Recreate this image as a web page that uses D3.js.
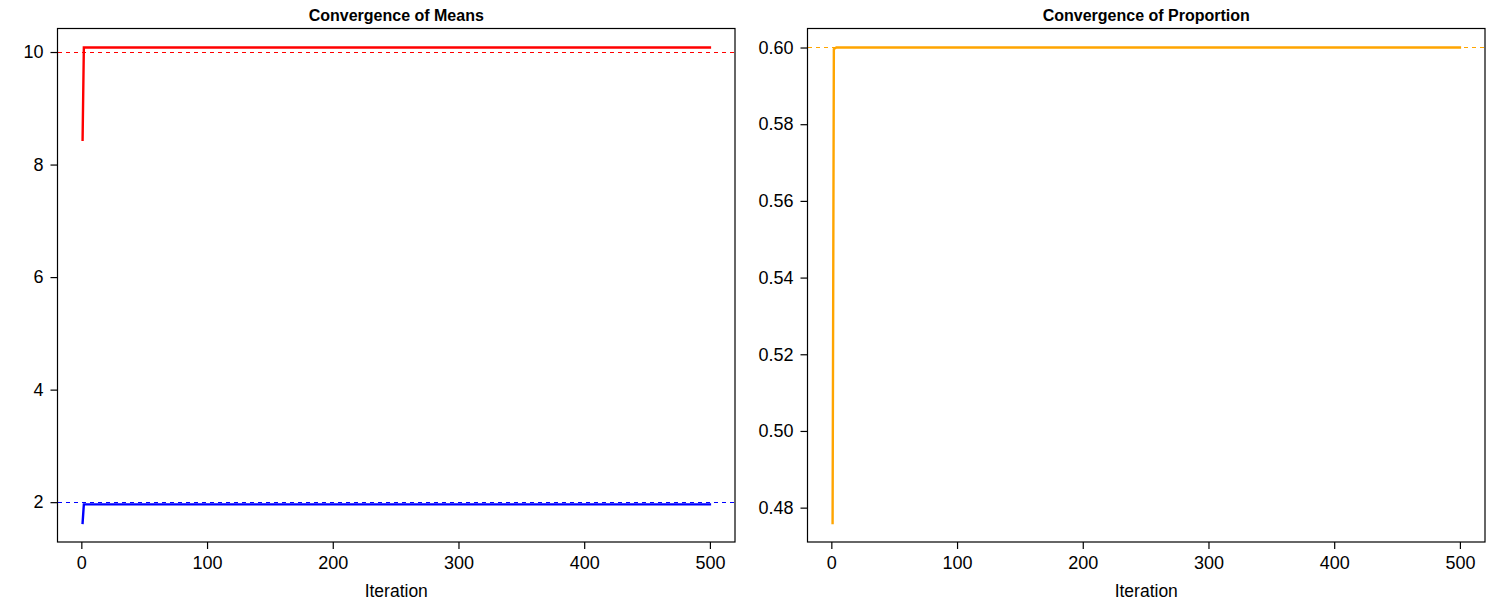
<!DOCTYPE html>
<html>
<head>
<meta charset="utf-8">
<script src="https://cdn.jsdelivr.net/npm/d3@7"></script>
<style>
	html, body { margin: 0; background: #fff; }
	svg { display: block; font-family: "Liberation Sans", Arial, sans-serif; }
</style>
</head>
<body>
<svg id="chart" width="1500" height="600"></svg>
<script>
// breakpoints of each trace: [iteration, value]
const meanHigh = [[1, 8.44], [2, 10.08], [500, 10.08]]
const meanLow = [[1, 1.63], [2, 1.96], [500, 1.96]]
const proportion = [[1, 0.476], [2, 0.5996], [4, 0.6], [500, 0.6]]

const trueMeans = [10, 2]
const trueProportion = 0.6

const xTicks = [0, 100, 200, 300, 400, 500]
const meanTicks = [2, 4, 6, 8, 10]
const propTicks = [0.48, 0.50, 0.52, 0.54, 0.56, 0.58, 0.60]

const svg = d3.select('#chart')

// R style range: data extent padded by 4% on each side
function padded(lo, hi) {
	const p = (hi - lo) * 0.04
	return [lo - p, hi + p]
}

function panel({left, right, title, series, refs, yTicks, yFormat}) {
	const top = 28.5, bottom = 542
	const allX = series.flatMap(s => s.data.map(d => d[0]))
	const allY = series.flatMap(s => s.data.map(d => d[1]))

	const x = d3.scaleLinear().domain(padded(d3.min(allX), d3.max(allX))).range([left, right])
	const y = d3.scaleLinear().domain(padded(d3.min(allY), d3.max(allY))).range([bottom, top])

	const g = svg.append('g')

	// reference lines (abline style, full box width)
	refs.forEach(r => {
		g.append('line')
			.attr('x1', left).attr('x2', right)
			.attr('y1', y(r.value)).attr('y2', y(r.value))
			.attr('stroke', r.color)
			.attr('stroke-width', 1)
			.attr('stroke-dasharray', '4,4')
			.attr('shape-rendering', 'crispEdges')
	})

	const line = d3.line().x(d => x(d[0])).y(d => y(d[1]))
	series.forEach(s => {
		g.append('path')
			.datum(s.data)
			.attr('d', line)
			.attr('fill', 'none')
			.attr('stroke', s.color)
			.attr('stroke-width', 2.4)
			.attr('stroke-linecap', 'square')
	})

	// box
	g.append('rect')
		.attr('x', left).attr('y', top)
		.attr('width', right - left).attr('height', bottom - top)
		.attr('fill', 'none').attr('stroke', '#000').attr('stroke-width', 1.2)

	const xAxis = g.append('g')
		.attr('transform', `translate(0,${bottom})`)
		.call(d3.axisBottom(x).tickValues(xTicks).tickSize(7).tickPadding(7).tickFormat(d3.format('d')))
	const yAxis = g.append('g')
		.attr('transform', `translate(${left},0)`)
		.call(d3.axisLeft(y).tickValues(yTicks).tickSize(7).tickPadding(7).tickFormat(yFormat))

	;[xAxis, yAxis].forEach(a => {
		a.select('.domain').remove()
		a.selectAll('line').attr('stroke', '#000').attr('stroke-width', 1.2)
		a.selectAll('text').attr('fill', '#000').style('font-size', '18px').style('font-family', '"Liberation Sans", Arial, sans-serif')
	})

	g.append('text')
		.attr('x', (left + right) / 2).attr('y', 21)
		.attr('text-anchor', 'middle')
		.style('font-size', '16px').style('font-weight', 'bold')
		.text(title)

	g.append('text')
		.attr('x', (left + right) / 2).attr('y', 597)
		.attr('text-anchor', 'middle')
		.style('font-size', '17.5px')
		.text('Iteration')
}

panel({
	left: 57.5, right: 735,
	title: 'Convergence of Means',
	series: [{data: meanHigh, color: '#ff0000'}, {data: meanLow, color: '#0000ff'}],
	refs: [{value: trueMeans[0], color: '#ff0000'}, {value: trueMeans[1], color: '#0000ff'}],
	yTicks: meanTicks,
	yFormat: d3.format('d'),
})

panel({
	left: 807.5, right: 1485,
	title: 'Convergence of Proportion',
	series: [{data: proportion, color: '#ffa500'}],
	refs: [{value: trueProportion, color: '#ffa500'}],
	yTicks: propTicks,
	yFormat: d3.format('.2f'),
})
</script>
</body>
</html>
